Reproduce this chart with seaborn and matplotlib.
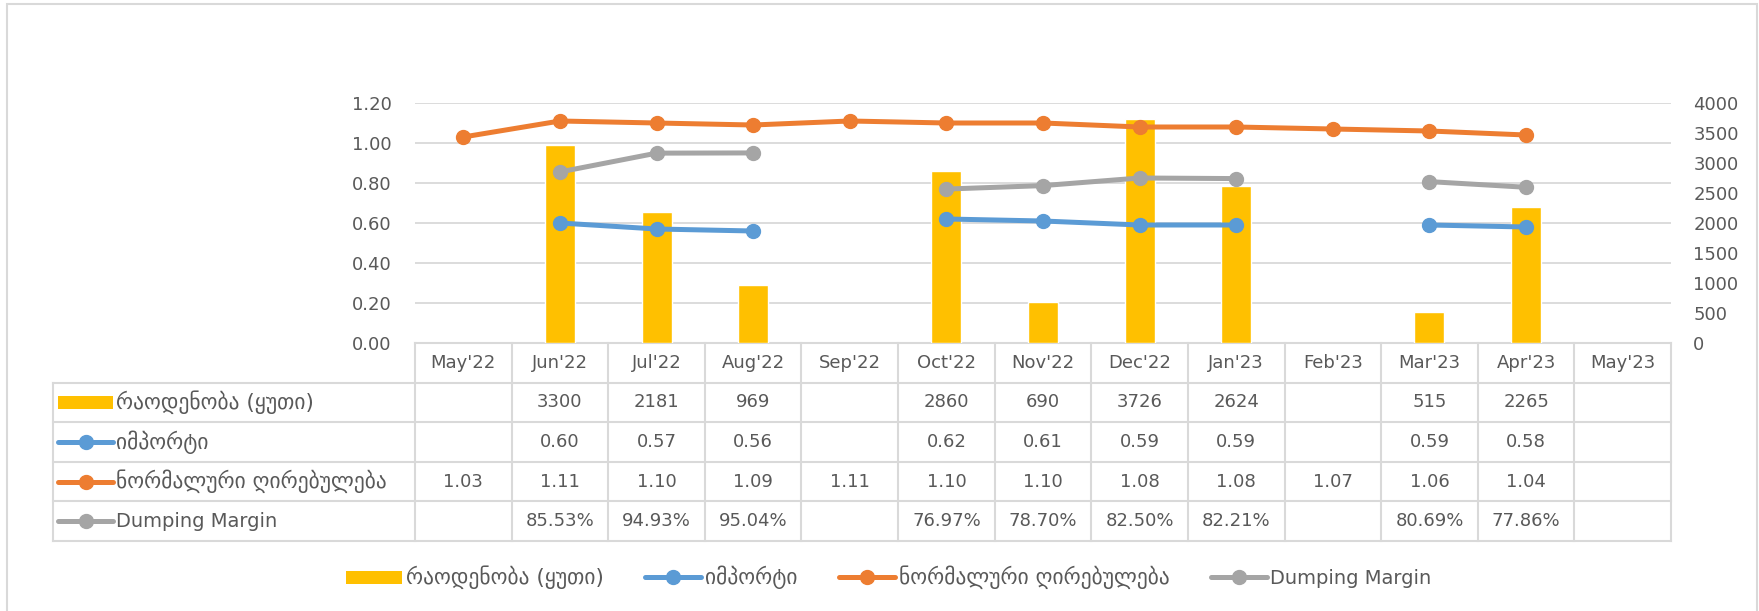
import numpy as np
import matplotlib
matplotlib.use("Agg")
import matplotlib.pyplot as plt
import seaborn as sns
from matplotlib.patches import Rectangle, Patch
from matplotlib.lines import Line2D

months = ["May'22", "Jun'22", "Jul'22", "Aug'22", "Sep'22", "Oct'22", "Nov'22",
          "Dec'22", "Jan'23", "Feb'23", "Mar'23", "Apr'23", "May'23"]
qty = [np.nan, 3300, 2181, 969, np.nan, 2860, 690, 3726, 2624, np.nan, 515, 2265, np.nan]
imports = [np.nan, 0.60, 0.57, 0.56, np.nan, 0.62, 0.61, 0.59, 0.59, np.nan, 0.59, 0.58, np.nan]
normal = [1.03, 1.11, 1.10, 1.09, 1.11, 1.10, 1.10, 1.08, 1.08, 1.07, 1.06, 1.04, np.nan]
dumping = [np.nan, 85.53, 94.93, 95.04, np.nan, 76.97, 78.70, 82.50, 82.21, np.nan, 80.69, 77.86, np.nan]

names = ['რაოდენობა (ყუთი)', 'იმპორტი', 'ნორმალური ღირებულება', 'Dumping Margin']
colors = ['#FFC000', '#5B9BD5', '#ED7D31', '#A5A5A5']
fmts = ['{:.0f}', '{:.2f}', '{:.2f}', '{:.2f}%']

sns.set_style('white')
plt.rcParams['font.family'] = ['DejaVu Sans']
TXT = '#595959'
GRID = '#D9D9D9'
FS = 13
FS_GE = 15.5   # Georgian labels look larger in the original
LW, MS = 3.6, 10


def label_size(s):
    return FS_GE if any('\u10a0' <= ch <= '\u10ff' for ch in s) else 14


W, H = 1759, 611
fig = plt.figure(figsize=(W / 100, H / 100), dpi=100)


def box(l, t, r, b):
    return [l / W, 1 - b / H, (r - l) / W, (b - t) / H]


# base axes: left scale + gridlines
ax = fig.add_axes(box(415, 103, 1671, 343))
ax.set_ylim(0, 1.2)
ax.set_yticks(np.arange(0, 1.21, 0.2))
ax.set_yticklabels([f'{v:.2f}' for v in np.arange(0, 1.21, 0.2)])
ax.yaxis.grid(True, color=GRID, lw=1.3)
ax.tick_params(axis='y', length=0, pad=17, labelsize=FS, labelcolor=TXT)
ax.tick_params(axis='x', bottom=False, labelbottom=False)
for s in ax.spines.values():
    s.set_visible(False)

# bars on the right scale
ax2 = ax.twinx()
sns.barplot(x=months, y=qty, order=months, ax=ax2, color=colors[0],
            saturation=1, width=0.31)
ax2.set_ylim(0, 4000)
ax2.set_yticks(np.arange(0, 4001, 500))
ax2.set_xlabel('')
ax2.set_ylabel('')
ax2.tick_params(axis='y', length=0, pad=16, labelsize=FS, labelcolor=TXT)
ax2.tick_params(axis='x', bottom=False, labelbottom=False)
for s in ax2.spines.values():
    s.set_visible(False)

# lines on top, sharing the left scale
ax3 = fig.add_axes(box(415, 103, 1671, 343), sharex=ax, sharey=ax)
ax3.patch.set_visible(False)
ax3.axis('off')
x = np.arange(len(months))
for vals, col in [(imports, colors[1]), (normal, colors[2]),
                  (np.array(dumping) / 100, colors[3])]:
    ax3.plot(x, vals, color=col, lw=LW, marker='o', ms=MS,
             solid_capstyle='round', clip_on=False)
ax.set_xlim(-0.5, len(months) - 0.5)
ax.set_zorder(0)
ax2.set_zorder(1)
ax3.set_zorder(2)

# data table
cw = (1671 - 415) / len(months)
x0 = -0.5 - (415 - 53) / cw
x1 = len(months) - 0.5
axt = fig.add_axes(box(53, 343, 1671, 541))
axt.set_xlim(x0, x1)
axt.set_ylim(5, 0)
axt.axis('off')
lk = dict(color=GRID, lw=1.5, clip_on=False, solid_capstyle='projecting')
for i in range(len(months) + 1):
    axt.plot([i - 0.5] * 2, [0, 5], **lk)
axt.plot([x0, x0], [1, 5], **lk)
axt.plot([-0.5, x1], [0, 0], **lk)
for r in range(1, 6):
    axt.plot([x0, x1], [r, r], **lk)

for i, m in enumerate(months):
    axt.text(i, 0.5, m, ha='center', va='center', fontsize=FS, color=TXT)

key_l = x0 + (58 - 53) / cw
key_r = x0 + (113 - 53) / cw
txt_x = x0 + (116 - 53) / cw
for r, (name, col, fmt, vals) in enumerate(zip(names, colors, fmts,
                                               [qty, imports, normal, dumping]), start=1):
    yc = r + 0.5
    if r == 1:
        axt.add_patch(Rectangle((key_l, yc - 0.17), key_r - key_l, 0.34,
                                fc=col, ec='none'))
    else:
        axt.plot([key_l, key_r], [yc, yc], color=col, lw=LW, solid_capstyle='round')
        axt.plot([(key_l + key_r) / 2], [yc], 'o', color=col, ms=MS)
    axt.text(txt_x, yc, name, ha='left', va='center',
             fontsize=label_size(name), color=TXT)
    for i, v in enumerate(vals):
        if not np.isnan(v):
            axt.text(i, yc, fmt.format(v), ha='center', va='center',
                     fontsize=FS, color=TXT)

# bottom legend
handles = [Patch(fc=colors[0], ec='none')] + [
    Line2D([], [], color=c, lw=LW, marker='o', ms=MS) for c in colors[1:]]
leg = fig.legend(handles, names, loc='center', bbox_to_anchor=(889 / W, 1 - 577 / H),
                 ncol=4, frameon=False, fontsize=FS, labelcolor=TXT,
                 handlelength=3.1, handletextpad=0.2, columnspacing=2.3)
for t in leg.get_texts():
    t.set_fontsize(label_size(t.get_text()))

# chart border
fig.patches.append(Rectangle((7 / W, -0.02), (1757 - 7) / W, 1.02 - 4 / H,
                             transform=fig.transFigure, fill=False,
                             ec=GRID, lw=1.5))

fig.savefig('out.png', dpi=100, facecolor='white')
